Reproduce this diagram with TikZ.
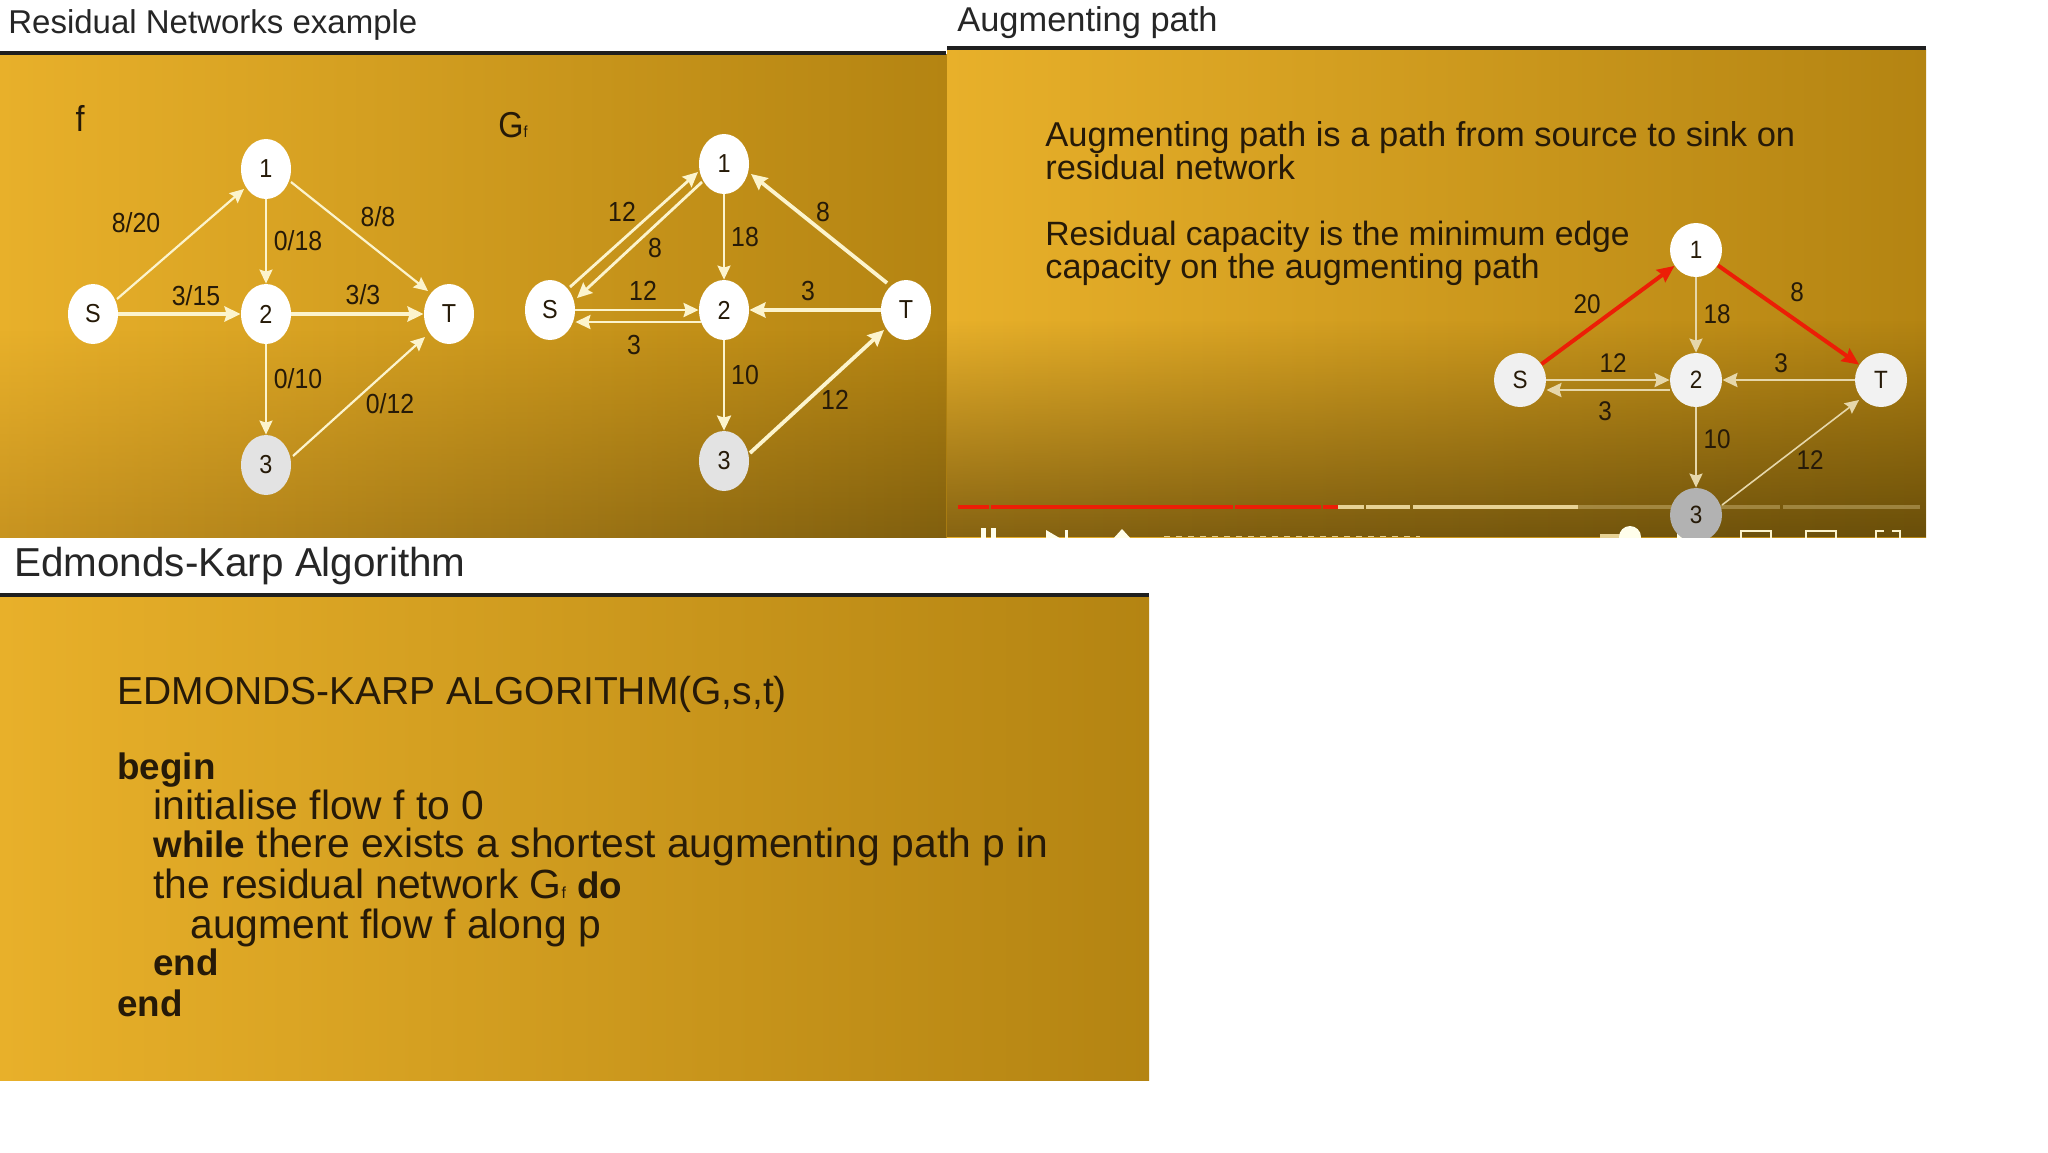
\documentclass[tikz,border=0pt]{standalone}
\usepackage{fontspec}
\setmainfont{Liberation Sans}
\newfontfamily\narrowf[FakeStretch=0.9]{Liberation Sans}
\usetikzlibrary{shapes.geometric,arrows.meta,fadings,calc}
\definecolor{goldL}{RGB}{232,176,42}
\definecolor{goldR}{RGB}{180,132,18}
\definecolor{ink}{RGB}{38,26,8}
\definecolor{edgec}{RGB}{252,244,205}
\definecolor{edged}{RGB}{230,215,170}
\definecolor{redp}{RGB}{236,30,6}
\definecolor{botAL}{RGB}{200,148,32}
\definecolor{botAR}{RGB}{128,95,14}
\definecolor{botBL}{RGB}{135,100,18}
\definecolor{botBR}{RGB}{105,78,10}
\tikzfading[name=botfade, top color=transparent!100, bottom color=transparent!0]
\newcommand{\fsz}[1]{\fontsize{#1}{#1}\selectfont}
\newcommand{\subf}{{\fsz{8}f}}
\newcommand{\bd}[1]{{\fsz{18.4}\bfseries #1}}
\tikzset{
  vnode/.style={ellipse,fill=white,draw=none,minimum width=25pt,minimum height=30pt,inner sep=0pt,text=ink,font=\narrowf\fsz{13}},
  vnodeb/.style={vnode,minimum width=26pt,minimum height=27pt,font=\narrowf\fsz{12.5}},
  lbl/.style={text=ink,font=\narrowf\fsz{13.8},inner sep=0pt},
  lbls/.style={text=ink,font=\narrowf\fsz{13.5},inner sep=0pt},
  ttl/.style={anchor=base west,text=black!85,inner sep=0pt},
  body/.style={anchor=base west,text=ink,font=\fsz{17.25},inner sep=0pt},
  body2/.style={anchor=base west,text=ink,font=\fsz{20.4},inner sep=0pt},
  thn/.style={draw=edgec,line width=1.1pt,-{Stealth[length=7pt,width=6.5pt,inset=1pt]}},
  thk/.style={draw=edgec,line width=1.9pt,-{Stealth[length=8pt,width=7.5pt,inset=1pt]}},
  thm/.style={draw=edgec,line width=1.4pt,-{Stealth[length=7.5pt,width=7pt,inset=1pt]}},
  thd/.style={draw=edged,line width=1.4pt,-{Stealth[length=7.5pt,width=7pt,inset=1pt]}},
  thr/.style={draw=redp,line width=2pt,-{Stealth[length=8.5pt,width=7.5pt,inset=1pt]}},
  rulel/.style={draw=black!88,line width=2pt},
  ctl/.style={fill=white!92!yellow,draw=none},
  pbar/.style={line width=2.2pt},
}
\begin{document}
\begin{tikzpicture}[x=0.5pt,y=-0.5pt]
\useasboundingbox (0,0) rectangle (2048,1152);
\fill[white] (0,0) rectangle (2048,1152);
% panel backgrounds
\shade[left color=goldL,right color=goldR] (0,54) rectangle (947,537);
\shade[left color=botAL,right color=botAR,path fading=botfade] (0,330) rectangle (947,537);
\shade[left color=goldL,right color=goldR] (947,49) rectangle (1926,537);
\shade[left color=botBL,right color=botBR,path fading=botfade] (947,320) rectangle (1926,537);
\shade[left color=goldL,right color=goldR] (0,597) rectangle (1149,1080);
% rules
\coordinate (r1a) at (0,52.5); \coordinate (r1b) at (946,52.5);
\coordinate (r2a) at (947,47.5); \coordinate (r2b) at (1926,47.5);
\coordinate (r3a) at (0,594.5); \coordinate (r3b) at (1149,594.5);
\draw[rulel] (r1a) -- (r1b);
\draw[rulel] (r2a) -- (r2b);
\draw[rulel] (r3a) -- (r3b);
% titles
\node[ttl,font=\fsz{16.5}] (t1) at (8,33) {Residual Networks example};
\node[ttl,font=\fsz{17.2}] (t2) at (957,31) {Augmenting path};
\node[ttl,font=\fsz{20.2}] (t3) at (14,576) {Edmonds-Karp Algorithm};
% ---------- graph f
\node[text=ink,font=\narrowf\fsz{18},inner sep=0pt] (fl) at (80,118) {f};
\node[vnode] (aS) at (93,314) {S};
\node[vnode] (a1) at (266,169) {1};
\node[vnode] (a2) at (266,314) {2};
\node[vnode] (aT) at (449,314) {T};
\node[vnode,fill=black!11] (a3) at (266,465) {3};
\draw[thn] ($(aS)+(24,-15)$) -- ($(a1)+(-22,20)$);
\draw[thk] (aS) -- (a2);
\draw[thn] (a1) -- (a2);
\draw[thn] ($(a1)+(25,13)$) -- ($(aT)+(-21,-23)$);
\draw[thk] (a2) -- (aT);
\draw[thn] (a2) -- (a3);
\draw[thn] ($(a3)+(27,-9)$) -- ($(aT)+(-24,23)$);
\node[lbl] (la1) at (136,223) {8/20};
\node[lbl] (la2) at (298,241) {0/18};
\node[lbl] (la3) at (378,217) {8/8};
\node[lbl] (la4) at (196,296) {3/15};
\node[lbl] (la5) at (363,295) {3/3};
\node[lbl] (la6) at (298,379) {0/10};
\node[lbl] (la7) at (390,404) {0/12};
% ---------- graph Gf
\node[text=ink,font=\narrowf\fsz{18},inner sep=0pt] (gl) at (513,125) {G\subf};
\node[vnode] (bS) at (550,310) {S};
\node[vnode] (b1) at (724,164) {1};
\node[vnode] (b2) at (724,310) {2};
\node[vnode] (bT) at (906,310) {T};
\node[vnode,fill=black!11] (b3) at (724,461) {3};
\draw[thm] ($(bS)+(20,-23)$) -- ($(b1)+(-26,8)$);
\draw[thm] ($(b1)+(-22,18)$) -- ($(bS)+(27,-12)$);
\draw[thn] (b1) -- (b2);
\draw[thk] ($(bT)+(-19,-27)$) -- ($(b1)+(27,10)$);
\draw[thm] (bS.east) -- (b2.west);
\draw[thm] ($(b2.west)+(2,12)$) -- ($(bS.east)+(0,12)$);
\draw[thk] (bT) -- (b2);
\draw[thm] (b2) -- (b3);
\draw[thk] ($(b3)+(26,-8)$) -- ($(bT)+(-22,20)$);
\node[lbl] (lb1) at (622,212) {12};
\node[lbl] (lb2) at (655,248) {8};
\node[lbl] (lb3) at (745,237) {18};
\node[lbl] (lb4) at (823,212) {8};
\node[lbl] (lb5) at (643,291) {12};
\node[lbl] (lb6) at (808,291) {3};
\node[lbl] (lb7) at (634,345) {3};
\node[lbl] (lb8) at (745,375) {10};
\node[lbl] (lb9) at (835,400) {12};
% ---------- panel 2 text
\node[body] (p1) at (1045,146) {Augmenting path is a path from source to sink on};
\node[body,font=\fsz{17.15}] (p2) at (1045,179) {residual network};
\node[body,font=\fsz{16.85}] (p3) at (1045,245) {Residual capacity is the minimum edge};
\node[body,font=\fsz{17.1}] (p4) at (1045,278) {capacity on the augmenting path};
% ---------- progress bar and player controls
\begin{scope}
\clip (947,49) rectangle (1926,537);
\coordinate (pa) at (958,507); \coordinate (pa1) at (989,507); \coordinate (pa2) at (991,507);
\coordinate (pa3) at (1233,507); \coordinate (pa4) at (1235,507);
\coordinate (pa5) at (1321,507); \coordinate (pa6) at (1323,507);
\coordinate (pb) at (1338,507); \coordinate (pb1) at (1364,507); \coordinate (pb2) at (1366,507);
\coordinate (pb3) at (1410,507); \coordinate (pb4) at (1413,507);
\coordinate (pc) at (1578,507); \coordinate (pc1) at (1780,507); \coordinate (pc2) at (1783,507);
\coordinate (pd) at (1920,507);
\draw[pbar,edgec!75!goldR,opacity=.35] (pc) -- (pc1);
\draw[pbar,edgec!75!goldR,opacity=.35] (pc2) -- (pd);
\draw[pbar,edgec!70!goldR] (pb) -- (pb1);
\draw[pbar,edgec!70!goldR] (pb2) -- (pb3);
\draw[pbar,edgec!70!goldR] (pb4) -- (pc);
\draw[pbar,redp] (pa) -- (pa1);
\draw[pbar,redp] (pa2) -- (pa3);
\draw[pbar,redp] (pa4) -- (pa5);
\draw[pbar,redp] (pa6) -- (pb);
\fill[ctl] (981,528) rectangle (986,540);
\fill[ctl] (991,528) rectangle (996,540);
\fill[ctl] (1046,530) -- (1063,540) -- (1046,540) -- cycle;
\fill[ctl] (1065,530) rectangle (1068,540);
\fill[ctl] (1122,529) -- (1132,540) -- (1112,540) -- cycle;
\draw[edgec!70!goldR,line width=.7pt,dash pattern=on 3pt off 3pt] (1164,536.5) -- (1420,536.5);
\fill[edgec!70!goldR] (1600,534) rectangle (1630,540);
\fill[ctl] (1630,537) circle (11);
\fill[ctl] (1677,533) rectangle (1703,540);
\draw[edgec,line width=1.4pt] (1741,545) -- (1741,531) -- (1771,531) -- (1771,545);
\draw[edgec,line width=1.4pt] (1806,545) -- (1806,531) -- (1836,531) -- (1836,545);
\draw[edgec,line width=1.4pt] (1876,540) -- (1876,531) -- (1884,531);
\draw[edgec,line width=1.4pt] (1892,531) -- (1900,531) -- (1900,540);
\end{scope}
% ---------- graph panel 2
\begin{scope}
\clip (947,49) rectangle (1926,537);
\node[vnodeb] (c1) at (1696,250) {1};
\node[vnodeb,fill=black!6] (cS) at (1520,380) {S};
\node[vnodeb,fill=black!5] (c2) at (1696,380) {2};
\node[vnodeb,fill=black!5] (cT) at (1881,380) {T};
\node[vnodeb,fill=black!30] (c3) at (1696,515) {3};
\draw[thr] (cS) -- (c1);
\draw[thr] (c1) -- (cT);
\draw[thn,draw=edged,line width=1pt] (c1) -- (c2);
\draw[thd] (cS.east) -- (c2.west);
\draw[thd] ($(c2.west)+(0,10)$) -- ($(cS.east)+(0,10)$);
\draw[thd] (cT) -- (c2);
\draw[thn,draw=edged,line width=1pt] (c2) -- (c3);
\draw[thn,draw=edged,line width=.8pt] ($(c3)+(26,-10)$) -- ($(cT)+(-22,20)$);
\node[lbls] (lc1) at (1587,304) {20};
\node[lbls] (lc2) at (1717,314) {18};
\node[lbls] (lc3) at (1797,292) {8};
\node[lbls] (lc4) at (1613,363) {12};
\node[lbls] (lc5) at (1781,363) {3};
\node[lbls] (lc6) at (1605,411) {3};
\node[lbls] (lc7) at (1717,439) {10};
\node[lbls] (lc8) at (1810,460) {12};
\end{scope}
% ---------- panel 3 text
\node[body2,font=\fsz{19.5}] (e0) at (117,704) {EDMONDS-KARP ALGORITHM(G,s,t)};
\node[body2] (e1) at (117,779) {\bd{begin}};
\node[body2] (e2) at (153,819) {initialise flow f to 0};
\node[body2] (e3) at (153,857) {\bd{while} there exists a shortest augmenting path p in};
\node[body2] (e4) at (153,898) {the residual network G\subf{} \bd{do}};
\node[body2] (e5) at (190,938) {augment flow f along p};
\node[body2] (e6) at (153,975) {\bd{end}};
\node[body2] (e7) at (117,1016) {\bd{end}};
\end{tikzpicture}
\end{document}
